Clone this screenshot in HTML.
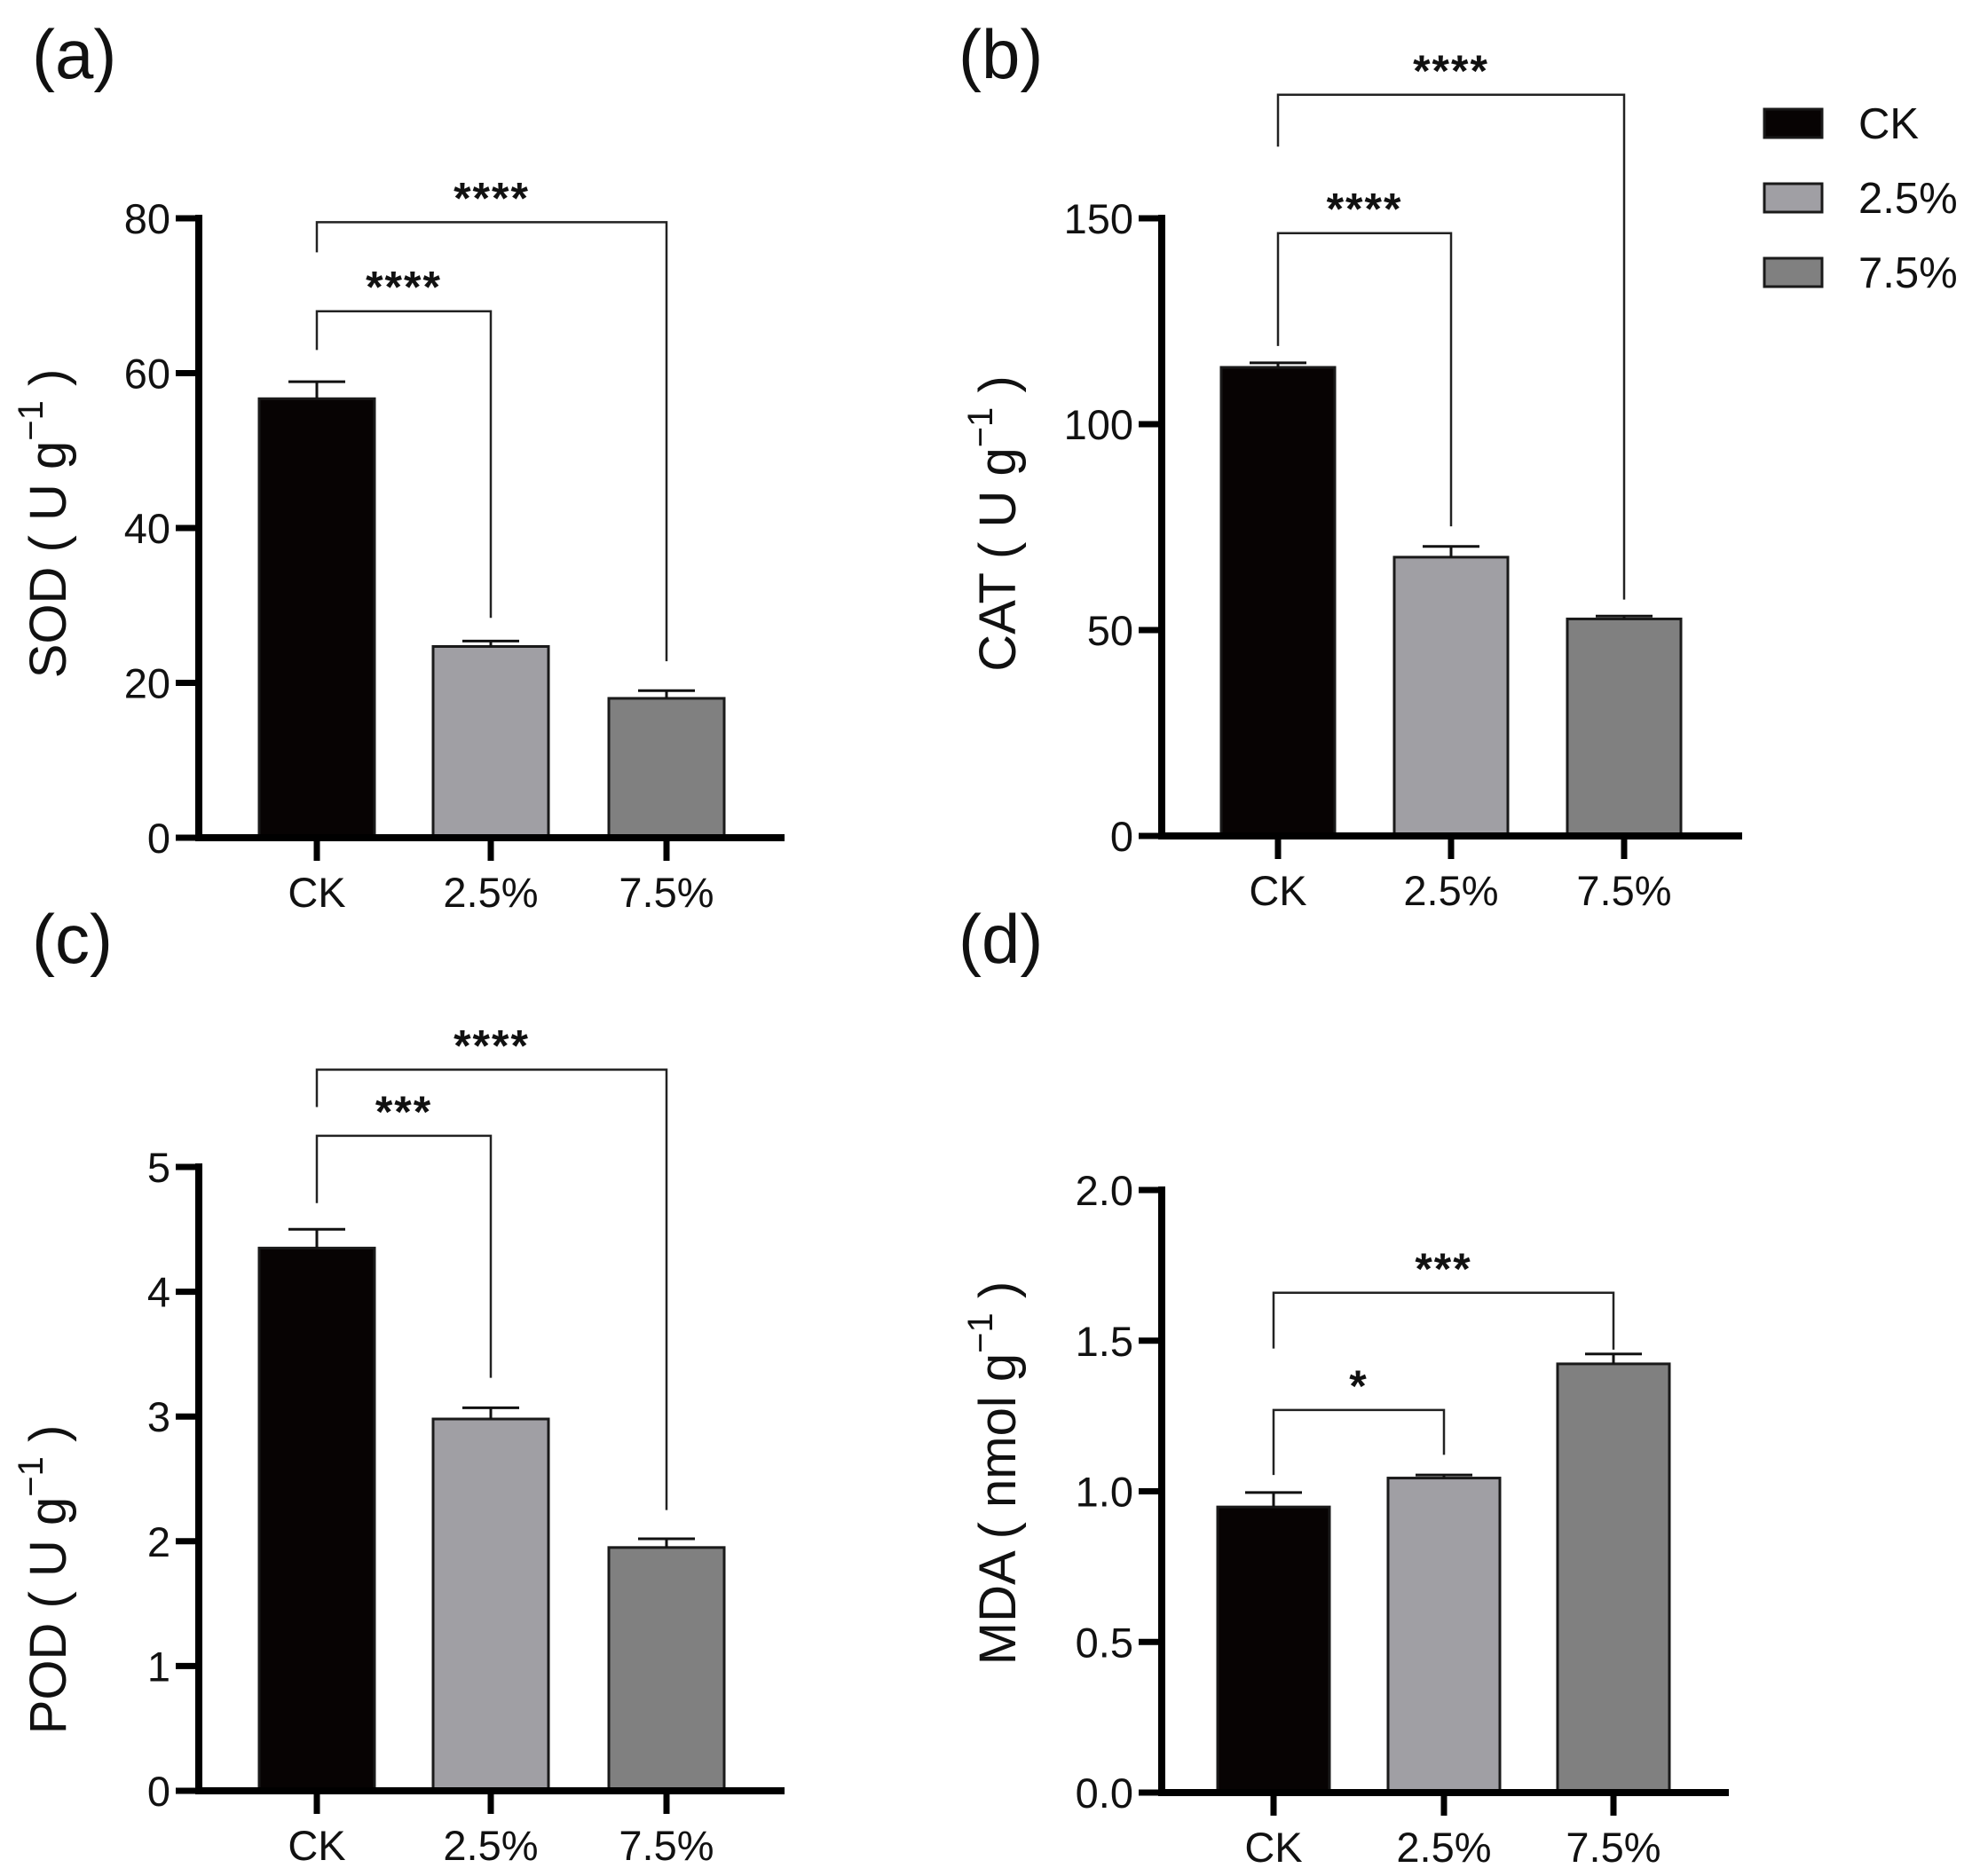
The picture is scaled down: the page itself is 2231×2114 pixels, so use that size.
<!DOCTYPE html>
<html><head><meta charset="utf-8"><style>
html,body{margin:0;padding:0;background:#fff;}
svg{display:block;font-family:"Liberation Sans",Arial,sans-serif;}
</style></head><body>
<svg id="fig" width="2231" height="2114" viewBox="0 0 2231 2114" xmlns="http://www.w3.org/2000/svg"></svg>
<script>
const categories = ["CK", "2.5%", "7.5%"];
const sodValues = [56.7, 24.7, 18.0];
const sodErr = [58.9, 25.4, 19.0];
const catValues = [113.8, 67.7, 52.7];
const catErr = [114.9, 70.3, 53.4];
const podValues = [4.35, 2.98, 1.95];
const podErr = [4.50, 3.07, 2.02];
const mdaValues = [0.948, 1.044, 1.423];
const mdaErr = [0.996, 1.054, 1.456];
const sodTicks = [0, 20, 40, 60, 80];
const catTicks = [0, 50, 100, 150];
const podTicks = [0, 1, 2, 3, 4, 5];
const mdaTicks = ["0.0", "0.5", "1.0", "1.5", "2.0"];
// brackets: [fromIdx, toIdx, level, leftEnd, rightEnd, stars]
const sodBrackets = [[0, 2, 79.5, 75.6, 22.8, "****"], [0, 1, 68.0, 63.0, 28.4, "****"]];
const catBrackets = [[0, 2, 180, 167.4, 57.4, "****"], [0, 1, 146.4, 119, 75.2, "****"]];
const podBrackets = [[0, 2, 5.78, 5.48, 2.25, "****"], [0, 1, 5.25, 4.71, 3.31, "***"]];
const mdaBrackets = [[0, 2, 1.659, 1.474, 1.47, "***"], [0, 1, 1.270, 1.054, 1.121, "*"]];

const colors = ["#070303", "#a09fa4", "#808080"];
const NS = "http://www.w3.org/2000/svg";
const svg = document.getElementById('fig');
function mk(tag, attrs, parent, text) {
  const e = document.createElementNS(NS, tag);
  for (const k in attrs) e.setAttribute(k, attrs[k]);
  if (text !== undefined) e.textContent = text;
  (parent || svg).appendChild(e);
  return e;
}

function panel(o) {
  const g = mk('g', {});
  
  
  const ymax = parseFloat(o.ticks[o.ticks.length - 1]);
  const yS = v => o.y0 - (o.y0 - o.yTop) * v / ymax;
  const xS = i => o.centers[i];
  const bw = o.barW;
  o.values.forEach((v, i) => {
    const r = mk('rect', {x: xS(i) - bw / 2, y: yS(v), width: bw, height: o.y0 - yS(v), fill: colors[i], stroke: '#1a1a1a', 'stroke-width': 3}, g);
    
    
    const e = mk('path', {d: `M${xS(i)} ${yS(v)}V${yS(o.err[i])}M${xS(i) - 32} ${yS(o.err[i])}H${xS(i) + 32}`, stroke: '#111', 'stroke-width': 3, fill: 'none'}, g);
    
    
  });
  const ax = mk('path', {d: `M${o.ax} ${yS(ymax) - 4}V${o.y0}M${o.ax - 4} ${o.y0}H${o.xEnd}`, stroke: '#000', 'stroke-width': 8, fill: 'none'}, g);
  
  
  o.ticks.forEach(t => {
    const y = yS(parseFloat(t));
    mk('line', {x1: o.ax - 26, x2: o.ax, y1: y, y2: y, stroke: '#000', 'stroke-width': 7}, g);
    const tl = mk('text', {x: o.ax - 32, y: y + 17, 'font-size': 47, 'text-anchor': 'end', fill: '#111'}, g, t);
    
    
  });
  categories.forEach((c, i) => {
    mk('line', {x1: xS(i), x2: xS(i), y1: o.y0, y2: o.y0 + 26, stroke: '#000', 'stroke-width': 7}, g);
    const xl = mk('text', {x: xS(i), y: o.y0 + 78, 'font-size': 47, 'text-anchor': 'middle', fill: '#111'}, g, c);
    
    
  });
  o.brackets.forEach(b => {
    const xa = xS(b[0]), xb = xS(b[1]), yl = yS(b[2]);
    const p = mk('path', {d: `M${xa} ${yS(b[3])}V${yl}H${xb}V${yS(b[4])}`, stroke: '#222', 'stroke-width': 2.5, fill: 'none'}, g);
    
    
    const s = mk('text', {x: (xa + xb) / 2, y: yl - 10, 'font-size': 50, 'font-weight': 'bold', 'text-anchor': 'middle', fill: '#111', 'letter-spacing': 2}, g, b[5]);
    
    
  });
  const yl = mk('text', {x: 0, y: 0, 'font-size': 58, 'text-anchor': 'middle', fill: '#111', transform: `translate(${o.labX},${o.labY}) rotate(-90)`}, g);
  
  
  mk('tspan', {}, yl, o.label + ' ( ' + o.unit + ' g');
  mk('tspan', {dy: -26, 'font-size': 40}, yl, '\u22121');
  mk('tspan', {dy: 26}, yl, ' )');
  const pl = mk('text', {x: o.letX, y: o.letY, 'font-size': 78, fill: '#111'}, g, '(' + o.letter + ')');
  
  
}

panel({name: 'sod-chart', letter: 'a', letX: 36, letY: 88, values: sodValues, err: sodErr, ticks: sodTicks, brackets: sodBrackets,
  ax: 224, y0: 944, yTop: 246, xEnd: 884, centers: [357, 553, 751], barW: 130, label: 'SOD', unit: 'U', labX: 74, labY: 590});
panel({name: 'cat-chart', letter: 'b', letX: 1080, letY: 88, values: catValues, err: catErr, ticks: catTicks, brackets: catBrackets,
  ax: 1309, y0: 942, yTop: 246, xEnd: 1963, centers: [1440, 1635, 1830], barW: 128, label: 'CAT', unit: 'U', labX: 1144, labY: 590});
panel({name: 'pod-chart', letter: 'c', letX: 36, letY: 1085, values: podValues, err: podErr, ticks: podTicks, brackets: podBrackets,
  ax: 224, y0: 2018, yTop: 1315, xEnd: 884, centers: [357, 553, 751], barW: 130, label: 'POD', unit: 'U', labX: 74, labY: 1780});
panel({name: 'mda-chart', letter: 'd', letX: 1080, letY: 1085, values: mdaValues, err: mdaErr, ticks: mdaTicks, brackets: mdaBrackets,
  ax: 1309, y0: 2020, yTop: 1341, xEnd: 1948, centers: [1435, 1627, 1818], barW: 126, label: 'MDA', unit: 'nmol', labX: 1144, labY: 1660});

const lg = mk('g', {});


const legY = [139, 223, 307];
categories.forEach((c, i) => {
  const r = mk('rect', {x: 1988, y: legY[i] - 16, width: 65, height: 32, fill: colors[i], stroke: '#1a1a1a', 'stroke-width': 3}, lg);
  
  
  const t = mk('text', {x: 2094, y: legY[i] + 17, 'font-size': 49, fill: '#111'}, lg, c);
  
  
});
</script>
</body></html>
